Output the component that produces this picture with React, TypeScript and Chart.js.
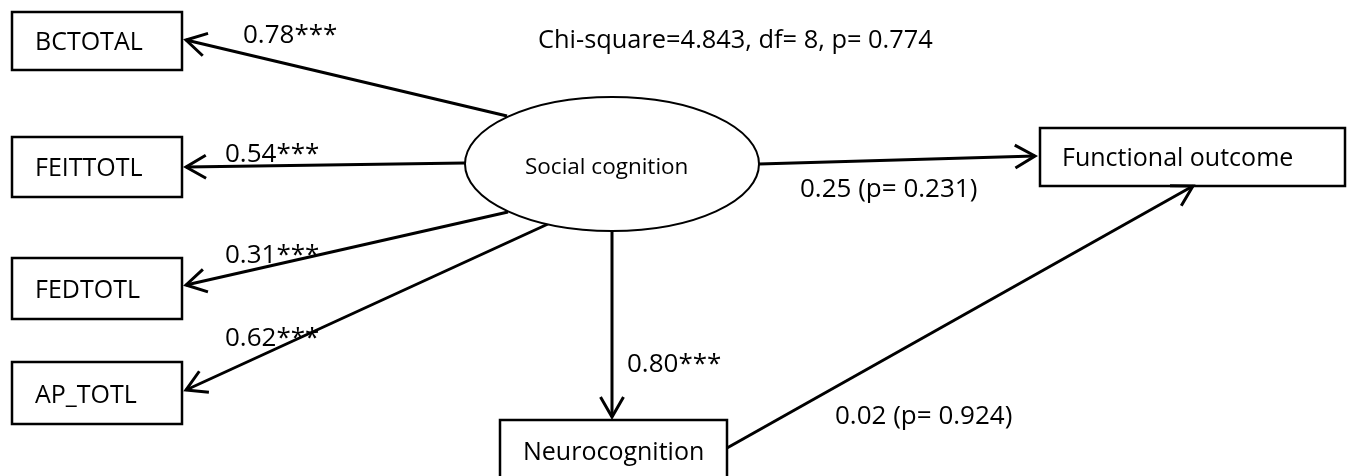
import { useEffect, useRef } from 'react';
import { Chart, registerables } from 'chart.js';

Chart.register(...registerables);

// ---------- values ----------
const indicators = ['BCTOTAL', 'FEITTOTL', 'FEDTOTL', 'AP_TOTL'];
const loadings = [0.78, 0.54, 0.31, 0.62];
const loadingSig = ['***', '***', '***', '***'];
const latentName = 'Social cognition';
const pathFrom = ['Social cognition', 'Social cognition', 'Neurocognition'];
const pathTo = ['Functional outcome', 'Neurocognition', 'Functional outcome'];
const pathCoef = [0.25, 0.8, 0.02];
const pathP: (number | null)[] = [0.231, null, 0.924];
const pathSig = ['', '***', ''];
const chiSquare = 4.843;
const chiDf = 8;
const chiP = 0.774;

// ---------- layout (diagram coordinates, mapped by the chart scales) ----------
const boxLayout: Record<string, number[]> = {
  BCTOTAL: [12, 12, 182, 70],
  FEITTOTL: [12, 137, 182, 197],
  FEDTOTL: [12, 258, 182, 319],
  AP_TOTL: [12, 362, 182, 424],
  'Functional outcome': [1040, 128, 1345, 186],
  Neurocognition: [500, 420, 727, 495],
};
const nameAnchor: Record<string, number[]> = {
  BCTOTAL: [35, 50],
  FEITTOTL: [35, 176],
  FEDTOTL: [35, 298],
  AP_TOTL: [35, 403],
  'Functional outcome': [1062, 166],
  Neurocognition: [523, 460],
  'Social cognition': [525, 174],
};
const ellipseLayout = { cx: 612, cy: 164, rx: 147, ry: 67 };
const loadingArrows = [
  [507, 116, 186, 40],
  [465, 163, 186, 167],
  [508, 212, 186, 285],
  [548, 224, 186, 390],
];
const pathArrows = [
  [759, 164, 1035, 156],
  [612, 231, 612, 417],
  [727, 448, 1193, 186],
];
const loadingLabelAnchor = [
  [243, 43],
  [225, 162],
  [225, 263],
  [225, 346],
];
const pathLabelAnchor = [
  [800, 197],
  [627, 372],
  [835, 424],
];
const fitAnchor = [538, 48];

const FONT = '"Open Sans", "Noto Sans", sans-serif';
const NAME_SIZE = 25;
const LATENT_SIZE = 22.5;
const LABEL_SIZE = 26;
const FIT_SIZE = 25.4;

export default function App() {
  const ref = useRef<HTMLCanvasElement | null>(null);

  useEffect(() => {
    document.body.style.margin = '0';
    const canvas = ref.current;
    if (!canvas) return;

    const datasets: any[] = [];
    // observed-variable boxes
    Object.keys(boxLayout).forEach((name) => {
      const [x0, y0, x1, y1] = boxLayout[name];
      datasets.push({
        type: 'line',
        label: name,
        data: [
          { x: x0, y: y0 },
          { x: x1, y: y0 },
          { x: x1, y: y1 },
          { x: x0, y: y1 },
          { x: x0, y: y0 },
        ],
        borderColor: '#000',
        borderWidth: 2.5,
        borderCapStyle: 'square',
        borderJoinStyle: 'miter',
        pointRadius: 0,
        fill: false,
        tension: 0,
        clip: false,
      });
    });
    // paths
    const addArrow = (a: number[], label: string) => {
      datasets.push({
        type: 'line',
        label,
        arrow: true,
        data: [
          { x: a[0], y: a[1] },
          { x: a[2], y: a[3] },
        ],
        borderColor: '#000',
        borderWidth: 3,
        pointRadius: 0,
        fill: false,
        tension: 0,
      });
    };
    indicators.forEach((n, i) => addArrow(loadingArrows[i], `${latentName} → ${n}`));
    pathFrom.forEach((f, i) => addArrow(pathArrows[i], `${f} → ${pathTo[i]}`));

    const diagramPlugin = {
      id: 'diagram',
      afterDatasetsDraw(chart: any) {
        const ctx = chart.ctx as CanvasRenderingContext2D;
        const xs = chart.scales.x;
        const ys = chart.scales.y;
        const px = (v: number) => xs.getPixelForValue(v);
        const py = (v: number) => ys.getPixelForValue(v);
        ctx.save();
        // arrowheads
        chart.data.datasets.forEach((ds: any, i: number) => {
          if (!ds.arrow) return;
          const pts = chart.getDatasetMeta(i).data;
          const a = pts[0];
          const b = pts[pts.length - 1];
          const ang = Math.atan2(a.y - b.y, a.x - b.x);
          const len = 23;
          const spread = (30 * Math.PI) / 180;
          ctx.beginPath();
          ctx.moveTo(b.x + len * Math.cos(ang + spread), b.y + len * Math.sin(ang + spread));
          ctx.lineTo(b.x, b.y);
          ctx.lineTo(b.x + len * Math.cos(ang - spread), b.y + len * Math.sin(ang - spread));
          ctx.strokeStyle = '#000';
          ctx.lineWidth = 3;
          ctx.lineJoin = 'miter';
          ctx.lineCap = 'butt';
          ctx.stroke();
        });
        // latent ellipse
        const e = ellipseLayout;
        const cx = px(e.cx);
        const cy = py(e.cy);
        const rx = Math.abs(px(e.cx + e.rx) - cx);
        const ry = Math.abs(py(e.cy + e.ry) - cy);
        ctx.beginPath();
        ctx.ellipse(cx, cy, rx, ry, 0, 0, Math.PI * 2);
        ctx.fillStyle = '#fff';
        ctx.fill();
        ctx.lineWidth = 2;
        ctx.strokeStyle = '#000';
        ctx.stroke();

        // texts
        ctx.fillStyle = '#000';
        ctx.textAlign = 'left';
        ctx.textBaseline = 'alphabetic';
        const txt = (s: string, a: number[], size: number) => {
          ctx.font = `${size}px ${FONT}`;
          ctx.fillText(s, px(a[0]), py(a[1]));
        };
        Object.keys(nameAnchor).forEach((n) => {
          txt(n, nameAnchor[n], n === latentName ? LATENT_SIZE : NAME_SIZE);
        });
        loadings.forEach((v, i) => {
          txt(`${v.toFixed(2)}${loadingSig[i]}`, loadingLabelAnchor[i], LABEL_SIZE);
        });
        pathCoef.forEach((v, i) => {
          const p = pathP[i];
          const s = p != null ? `${v.toFixed(2)} (p= ${p.toFixed(3)})` : `${v.toFixed(2)}${pathSig[i]}`;
          txt(s, pathLabelAnchor[i], LABEL_SIZE);
        });
        txt(`Chi-square=${chiSquare.toFixed(3)}, df= ${chiDf}, p= ${chiP.toFixed(3)}`, fitAnchor, FIT_SIZE);
        ctx.restore();
      },
    };

    const chart = new Chart(canvas, {
      type: 'scatter',
      data: { datasets },
      options: {
        animation: false,
        responsive: false,
        devicePixelRatio: 1,
        layout: { padding: 0 },
        events: [],
        plugins: {
          legend: { display: false },
          tooltip: { enabled: false },
          title: { display: false },
        },
        scales: {
          x: { type: 'linear', min: 0, max: 1360, display: false },
          y: { type: 'linear', min: 0, max: 476, reverse: true, display: false },
        },
      },
      plugins: [diagramPlugin],
    });
    return () => chart.destroy();
  }, []);

  return (
    <div style={{ width: 1360, height: 476, background: '#fff' }}>
      <canvas ref={ref} width={1360} height={476} style={{ display: 'block' }} />
    </div>
  );
}
